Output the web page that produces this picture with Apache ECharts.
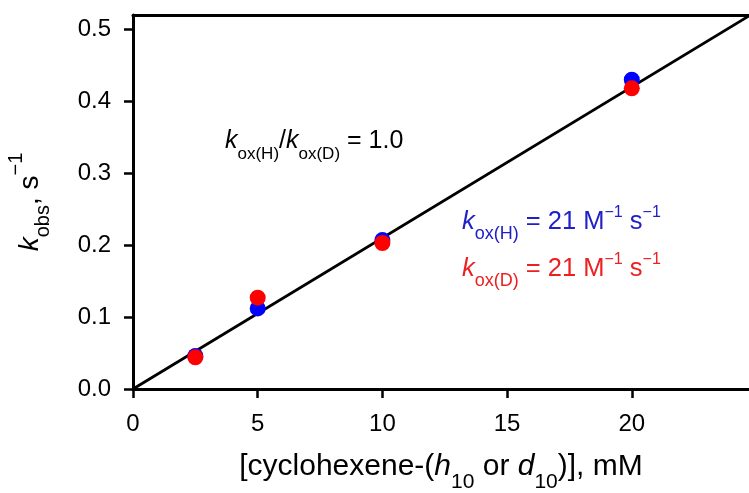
<!DOCTYPE html>
<html><head><meta charset="utf-8">
<script src="https://cdn.jsdelivr.net/npm/echarts@6/dist/echarts.min.js"></script>
<style>html,body{margin:0;padding:0;background:#fff}#c{width:749px;height:493px}</style>
</head><body><div id="c"></div>
<script>
const concentrations = [2.5, 5, 10, 20];
const kobsH = [0.046, 0.112, 0.207, 0.430];
const kobsD = [0.044, 0.127, 0.203, 0.418];
const fitSlope = 0.021; // mM^-1 s^-1  (21 M^-1 s^-1)
const fitX = [0, 24.7];
const xTicks = [0, 5, 10, 15, 20];
const yTicks = [0, 0.1, 0.2, 0.3, 0.4, 0.5];
const xRange = [0, 24.7];
const yRange = [0, 0.52];

const FONT = 'Liberation Sans, Arial, sans-serif';
const blue = '#0000ff', red = '#ff0000';
const blueText = '#2020c8', redText = '#ec2020';

function richSet(color, main, sub, subShift, sup, supShift) {
  return {
    n: {fontFamily: FONT, fontSize: main, color: color, fill: color},
    i: {fontFamily: FONT, fontSize: main, color: color, fill: color, fontStyle: 'italic'},
    sub: {fontFamily: FONT, fontSize: sub, color: color, fill: color, padding: [subShift * 2, 0, 0, 0]},
    sup: {fontFamily: FONT, fontSize: sup || sub, color: color, fill: color, padding: [0, 0, (supShift || subShift) * 2, 0]}
  };
}

const chart = echarts.init(document.getElementById('c'), null, {renderer: 'canvas'});
const axisLineStyle = {color: '#000', width: 3};
chart.setOption({
  animation: false,
  backgroundColor: '#fff',
  grid: {left: 133, right: 0, top: 15, bottom: 104, containLabel: false, outerBoundsMode: 'none'},
  xAxis: [{
    type: 'value', min: xRange[0], max: xRange[1],
    axisLine: {show: true, onZero: false, lineStyle: axisLineStyle},
    axisTick: {show: true, length: 9, inside: false, lineStyle: {color: '#000', width: 2.5}, customValues: xTicks},
    axisLabel: {fontFamily: FONT, fontSize: 24, color: '#000', margin: 23, customValues: xTicks},
    splitLine: {show: false},
    name: '{n|[cyclohexene-(}{i|h}{sub|10}{n| or }{i|d}{sub|10}{n|)], mM}',
    nameLocation: 'middle', nameGap: 51,
    nameTextStyle: {rich: richSet('#000', 30, 21, 16)}
  }, {
    type: 'value', position: 'top', min: xRange[0], max: xRange[1],
    axisLine: {show: true, onZero: false, lineStyle: axisLineStyle},
    axisTick: {show: false}, axisLabel: {show: false}, splitLine: {show: false}
  }],
  yAxis: {
    type: 'value', min: yRange[0], max: yRange[1],
    axisLine: {show: true, onZero: false, lineStyle: axisLineStyle},
    axisTick: {show: true, length: 9, inside: false, lineStyle: {color: '#000', width: 2.5}, customValues: yTicks},
    axisLabel: {fontFamily: FONT, fontSize: 24, color: '#000', margin: 22, customValues: yTicks,
      formatter: v => v.toFixed(1)},
    splitLine: {show: false},
    name: '{i|k}{sub|obs}{n|, s}{sup|−1}',
    nameLocation: 'middle', nameRotate: 90, nameGap: 79,
    nameTextStyle: {rich: richSet('#000', 28, 20, 13, 20, 14)}
  },
  series: [{
    type: 'line', data: fitX.map(x => [x, fitSlope * x]), showSymbol: false, symbol: 'none',
    lineStyle: {color: '#000', width: 2.8}, z: 1, silent: true
  }, {
    name: 'H', type: 'scatter', data: concentrations.map((x, i) => [x, kobsH[i]]),
    symbolSize: 16, itemStyle: {color: blue, opacity: 1}, z: 2
  }, {
    name: 'D', type: 'scatter', data: concentrations.map((x, i) => [x, kobsD[i]]),
    symbolSize: 16, itemStyle: {color: red, opacity: 1}, z: 3
  }],
  graphic: [{
    type: 'text', left: 225, top: 129,
    style: {text: '{i|k}{sub|ox(H)}{n|/}{i|k}{sub|ox(D)}{n| = 1.0}', fill: '#000', rich: richSet('#000', 25, 17, 13)}
  }, {
    type: 'text', left: 462, top: 205,
    style: {text: '{i|k}{sub|ox(H)}{n| = 21 M}{sup|−1}{n| s}{sup|−1}', fill: blueText, rich: richSet(blueText, 25.5, 18, 13, 16, 8.5)}
  }, {
    type: 'text', left: 462, top: 252,
    style: {text: '{i|k}{sub|ox(D)}{n| = 21 M}{sup|−1}{n| s}{sup|−1}', fill: redText, rich: richSet(redText, 25.5, 18, 13, 16, 8.5)}
  }]
});
</script>
</body></html>
